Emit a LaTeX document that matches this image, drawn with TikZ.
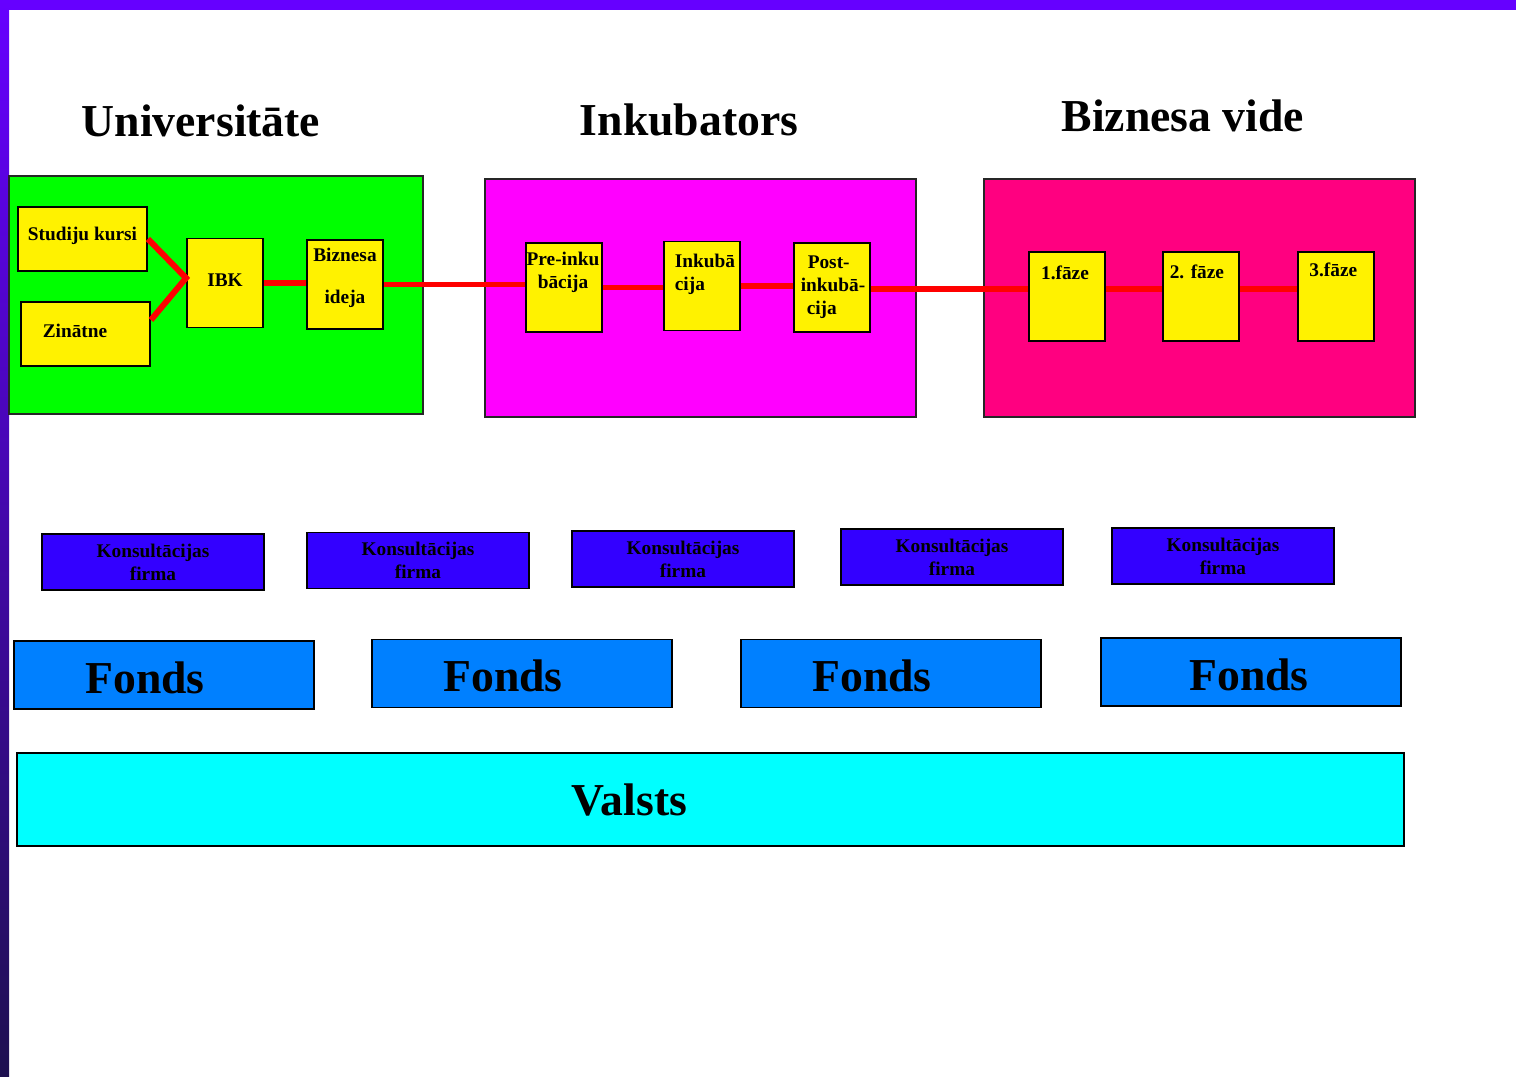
\documentclass[tikz,border=0pt]{standalone}
\usepackage{fontspec}
\setmainfont{Liberation Serif}
\usepackage{tikz}
\usetikzlibrary{positioning, calc}
\definecolor{frame}{HTML}{6600FF}
\definecolor{framedark}{HTML}{1E1050}
\definecolor{unigreen}{HTML}{00FF00}
\definecolor{inkmagenta}{HTML}{FF00FF}
\definecolor{bizpink}{HTML}{FF0080}
\definecolor{konsblue}{HTML}{3300FF}
\definecolor{fondsblue}{HTML}{0080FF}
\definecolor{valstscyan}{HTML}{00FFFF}
\tikzset{
    base/.style={draw=black, line width=1.1pt, inner sep=0pt, font=\bfseries\fontsize{11}{13}\selectfont},
    area/.style={draw=black!85, line width=1pt, minimum width=8.62cm, minimum height=4.76cm},
    cell/.style={base, fill=yellow, minimum width=1.52cm, minimum height=1.78cm},
    widecell/.style={cell, minimum width=2.58cm, minimum height=1.28cm},
    lbl/.style={font=\bfseries\fontsize{11}{13}\selectfont, align=center, inner sep=0pt},
    konsbox/.style={base, fill=konsblue, align=center, minimum width=4.44cm, minimum height=1.12cm},
    fondsbox/.style={base, fill=fondsblue, minimum width=6cm, minimum height=1.36cm},
    bigtext/.style={font=\bfseries\fontsize{26}{30}\selectfont, inner sep=0pt},
    title/.style={bigtext, anchor=base},
    link/.style={draw=red, line width=3.4pt}
}
\begin{document}
\begin{tikzpicture}[x=0.02cm, y=-0.02cm]
    \useasboundingbox (0,0) rectangle (1516,1077);
    \fill[frame] (0,0) rectangle (1516,10);
    \shade[top color=frame, bottom color=framedark] (0,0) rectangle (9,1077);

    % titles
    \node[title] (uniTitle) at (201,137) {Universitāte};
    \node[title] (inkTitle) at (689,136) {Inkubators};
    \node[title] (bizTitle) at (1183,132) {Biznesa vide};

    % the three areas
    \node[area, fill=unigreen, minimum width=8.28cm] (uni) at (216,295) {};
    \node[area, fill=inkmagenta] (ink) at (700.5,298) {};
    \node[area, fill=bizpink] (biz) at (1199.5,298) {};

    % Universitate
    \node[widecell, label={[lbl, yshift=0.06cm]center:Studiju kursi}] (kursi) at (82.5,239) {};
    \node[widecell, label={[lbl, xshift=-0.21cm, yshift=0.06cm]center:Zinātne}] (zinatne) at (85.5,334) {};
    \node[cell, label={[lbl, yshift=0.06cm]center:IBK}] (ibk) at (225,283) {};
    \node[cell, label={[lbl, yshift=0.13cm]center:Biznesa\\[10.8pt]ideja}] (ideja) at (345,284.5) {};

    % Inkubators
    \node[cell, label={[lbl, xshift=-0.02cm, yshift=0.3cm]center:Pre-inku\\bācija}] (pre) at (564,287.5) {};
    \node[cell, label={[lbl, align=left, xshift=0.06cm, yshift=0.23cm]center:Inkubā\\cija}] (inkuba) at (702,286) {};
    \node[cell, label={[lbl, align=left, xshift=0.02cm]center:\hspace*{0.14cm}Post-\\inkubā-\\\hspace*{0.12cm}cija}] (post) at (832,287.5) {};

    % Biznesa vide
    \node[cell, label={[lbl, xshift=-0.04cm, yshift=0.47cm]center:1.fāze}] (faze1) at (1067,296.5) {};
    \node[cell, right=1.13cm of faze1, label={[lbl, xshift=-0.09cm, yshift=0.49cm]center:2. fāze}] (faze2) {};
    \node[cell, right=1.13cm of faze2, label={[lbl, xshift=-0.05cm, yshift=0.53cm]center:3.fāze}] (faze3) {};

    % red connections
    \draw[link] (kursi.east) -- ([yshift=0.1cm]ibk.west) -- ([yshift=0.28cm]zinatne.east);
    \draw[link] (ibk.east) -- (ibk.east -| ideja.west);
    \draw[link] (ideja.east) -- (ideja.east -| pre.west);
    \draw[link] (pre.east) -- (pre.east -| inkuba.west);
    \draw[link] (inkuba.east) -- (inkuba.east -| post.west);
    \draw[link] ([yshift=-0.03cm]post.east) coordinate (row) -- (row -| faze1.west);
    \draw[link] (faze1.east |- row) -- (faze2.west |- row);
    \draw[link] (faze2.east |- row) -- (faze3.west |- row);

    % consulting firms
    \foreach \cx/\cy [count=\i] in {153/562, 418/560.5, 683/559, 952/557, 1223/556}
        \node[konsbox] (kons\i) at (\cx,\cy) {Konsultācijas\\firma};

    % funds
    \foreach \cx/\cy/\dx [count=\i] in {164/675/-0.38, 522/673.5/-0.38, 891/673.5/-0.38, 1251/672/-0.04}
        \node[fondsbox, label={[bigtext, xshift=\dx cm, yshift=-0.05cm]center:Fonds}] (fonds\i) at (\cx,\cy) {};

    % state
    \node[base, fill=valstscyan, minimum width=27.74cm, minimum height=1.86cm,
        label={[bigtext, xshift=-1.62cm]center:Valsts}] (valsts) at (710.5,799.5) {};
\end{tikzpicture}
\end{document}
